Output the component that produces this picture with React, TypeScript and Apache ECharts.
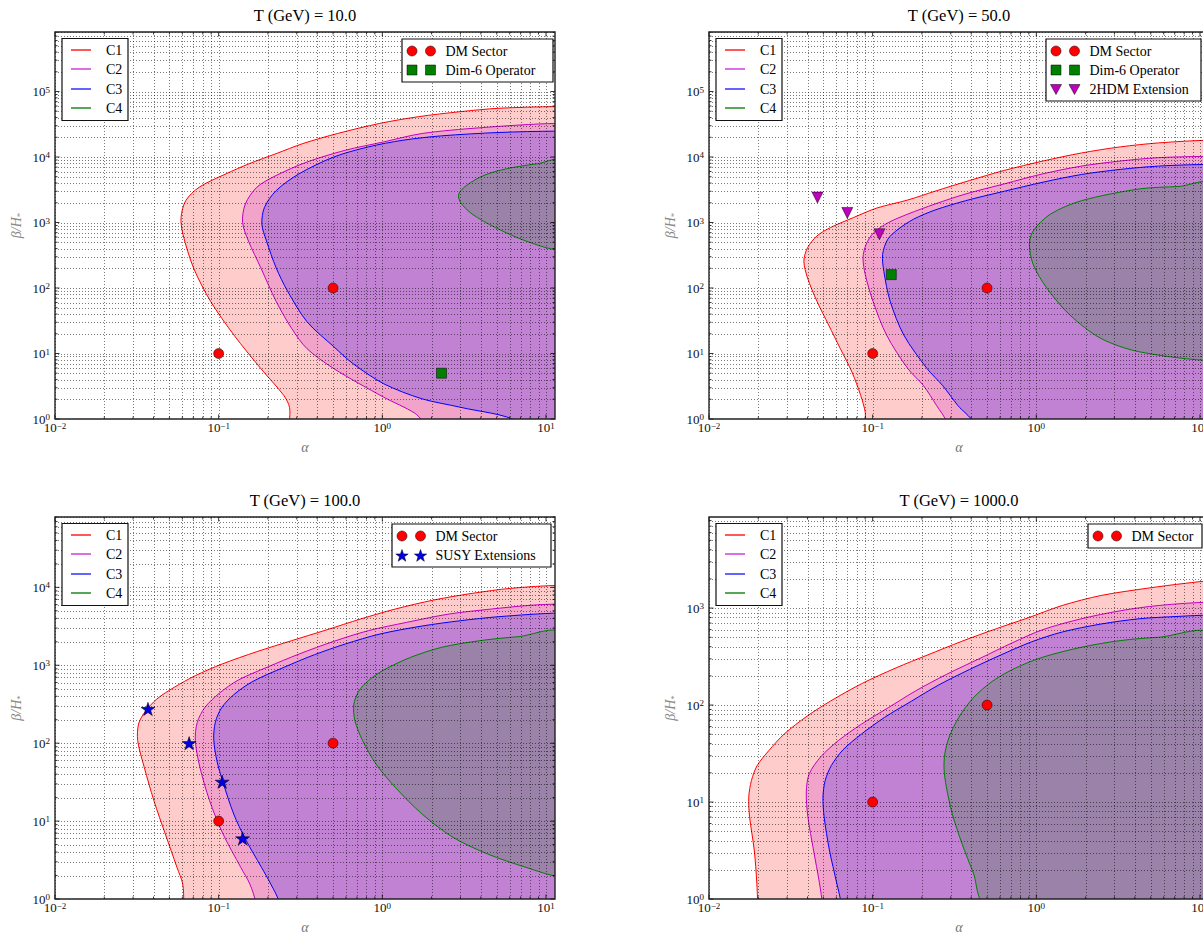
import React, { useEffect, useRef } from 'react';
import * as echarts from 'echarts';

const SERIF = '"Liberation Serif", "DejaVu Serif", serif';

// ---------------- data ----------------
const TEMPS = ['10.0', '50.0', '100.0', '1000.0'];
const CONTOUR_NAMES = ['C1', 'C2', 'C3', 'C4'];
const X_MIN = 0.01;
const X_MAX = 11.35;
const Y_MIN = 1;
const Y_MAX = [8.1e5, 8.1e5, 8.0e4, 8.7e3];
const X_TICKS = [0.01, 0.1, 1, 10];
const Y_TICKS_T10 = [1, 10, 100, 1e3, 1e4, 1e5];
const Y_TICKS_T50 = [1, 10, 100, 1e3, 1e4, 1e5];
const Y_TICKS_T100 = [1, 10, 100, 1e3, 1e4];
const Y_TICKS_T1000 = [1, 10, 100, 1e3];

// contour boundaries [alpha, beta/H*]
const T10_C1 = [[0.271, 0.9], [0.271, 1.51], [0.25, 2.29], [0.181, 5.88], [0.124, 19.1], [0.0893, 62.4], [0.0702, 203], [0.0605, 661], [0.0589, 1194], [0.0629, 2154], [0.076, 3455], [0.111, 5540], [0.1535, 7890], [0.2245, 11250], [0.327, 16040], [0.533, 22860], [0.966, 32590], [1.66, 41220], [3.0, 49230], [5.16, 55450], [11.6, 58770]];
const T10_C2 = [[1.75, 0.9], [1.57, 1.24], [1.02, 2.15], [0.505, 5.88], [0.346, 11.9], [0.279, 24.2], [0.2245, 62.4], [0.181, 203], [0.152, 522], [0.14, 1000], [0.1455, 1914], [0.171, 3455], [0.2245, 5224], [0.346, 8375], [0.594, 12670], [1.02, 17010], [1.75, 22860], [3.94, 27930], [11.6, 32590]];
const T10_C3 = [[6.77, 0.9], [3.0, 1.51], [1.75, 2.03], [1.02, 3.45], [0.661, 7.02], [0.505, 12.7], [0.346, 30.7], [0.264, 88.9], [0.2245, 203], [0.196, 522], [0.1836, 942], [0.1905, 1702], [0.2245, 3070], [0.31, 5540], [0.505, 10000], [0.821, 14260], [1.337, 18040], [2.3, 21040], [5.16, 23680], [11.6, 24820]];
const T10_C4 = [[12.3, 8475], [8.87, 7890], [5.75, 6618], [4.16, 5224], [3.26, 3664], [2.93, 2728], [3.0, 2031], [3.54, 1344], [4.9, 838], [7.54, 522], [12.3, 375]];

const T50_C1 = [[0.0901, 0.9], [0.0901, 1.27], [0.0845, 2.29], [0.0747, 5.22], [0.0634, 11.9], [0.0538, 27.3], [0.0457, 62.4], [0.04, 142.5], [0.038, 257], [0.04, 412], [0.0457, 624], [0.0553, 838], [0.0766, 1194], [0.106, 1662], [0.164, 2206], [0.24, 3000], [0.391, 4375], [0.637, 6237], [1.097, 8675], [1.89, 11530], [3.25, 14260], [5.59, 16420], [11.6, 18040]];
const T50_C2 = [[0.282, 0.9], [0.246, 1.6], [0.2037, 3.26], [0.164, 5.88], [0.1216, 19.1], [0.1005, 62.4], [0.0901, 160], [0.0873, 289], [0.0912, 464], [0.1016, 702], [0.125, 1000], [0.164, 1344], [0.24, 1914], [0.37, 2728], [0.637, 3890], [1.097, 5540], [1.89, 7270], [3.25, 8675], [5.59, 9770], [11.6, 10230]];
const T50_C3 = [[0.408, 0.9], [0.332, 1.6], [0.267, 3.26], [0.215, 5.88], [0.155, 19.1], [0.128, 62.4], [0.117, 180], [0.115, 326], [0.1236, 554], [0.143, 789], [0.178, 1125], [0.24, 1548], [0.37, 2154], [0.637, 3000], [1.097, 4125], [1.89, 5410], [3.25, 6460], [5.59, 7270], [11.6, 7710]];
const T50_C4 = [[12.3, 3750], [7.34, 3540], [4.27, 3258], [1.89, 2154], [1.22, 1344], [0.957, 745], [0.907, 464], [0.957, 228], [1.158, 100], [1.6, 38.9], [2.48, 17], [4.27, 10.6], [12.3, 7.7]];

const T100_C1 = [[0.0612, 0.9], [0.0603, 1.56], [0.0556, 2.55], [0.0472, 6.83], [0.0402, 18.3], [0.0351, 49], [0.032, 108], [0.0324, 176], [0.0353, 249], [0.0419, 369], [0.0535, 521], [0.072, 735], [0.105, 1038], [0.171, 1494], [0.279, 2067], [0.453, 2833], [0.737, 3925], [1.2, 5270], [2.06, 6875], [3.54, 8375], [6.08, 9710], [12.3, 10610]];
const T100_C2 = [[0.168, 0.9], [0.155, 1.56], [0.1364, 2.55], [0.1063, 6.83], [0.088, 18.3], [0.0768, 49], [0.072, 108], [0.074, 185], [0.0824, 288], [0.1007, 436], [0.132, 647], [0.2012, 959], [0.31, 1394], [0.505, 2028], [0.821, 2780], [1.41, 3556], [2.56, 4550], [4.64, 5270], [7.96, 5875], [12.3, 6110]];
const T100_C3 = [[0.234, 0.9], [0.208, 1.56], [0.1825, 2.55], [0.1455, 5.89], [0.1236, 12.3], [0.1063, 31.4], [0.0975, 59.6], [0.0933, 113], [0.0954, 185], [0.104, 283], [0.1236, 419], [0.162, 622], [0.25, 940], [0.385, 1367], [0.594, 1875], [0.966, 2518], [1.75, 3190], [3.0, 3733], [5.16, 4205], [12.3, 4685]];
const T100_C4 = [[12.3, 2470], [6.77, 2328], [3.94, 2067], [2.3, 1698], [1.49, 1264], [1.02, 869], [0.821, 634], [0.717, 463], [0.669, 312], [0.68, 194], [0.7575, 108], [0.915, 54], [1.2, 27.1], [1.75, 12.3], [2.7, 6.19], [4.4, 3.78], [7.54, 2.55], [12.3, 1.94]];

const T1000_C1 = [[0.0198, 0.9], [0.0196, 1.46], [0.0189, 3.2], [0.0177, 7.03], [0.0175, 11.3], [0.01817, 16.7], [0.0197, 23.8], [0.0232, 33.9], [0.0288, 50.3], [0.04, 77.5], [0.0553, 110], [0.0855, 166], [0.139, 242], [0.215, 327], [0.351, 455], [0.571, 614], [0.883, 789], [1.44, 1064], [2.48, 1348], [4.75, 1602], [8.18, 1803], [11.6, 1905]];
const T1000_C2 = [[0.0491, 0.9], [0.0473, 1.46], [0.0435, 3.2], [0.0402, 7.03], [0.0393, 12.7], [0.041, 19.6], [0.0483, 29.4], [0.0617, 43], [0.0855, 63.7], [0.125, 94.3], [0.183, 140], [0.282, 207], [0.46, 307], [0.71, 437], [1.097, 600], [1.89, 777], [3.25, 938], [5.59, 1064], [11.6, 1151]];
const T1000_C3 = [[0.064, 0.9], [0.0603, 1.46], [0.0544, 3.2], [0.0505, 7.03], [0.0497, 11.3], [0.0513, 16.7], [0.0559, 23.8], [0.0658, 34.5], [0.0855, 50.3], [0.118, 74.5], [0.173, 110], [0.253, 161], [0.391, 233], [0.603, 327], [0.932, 448], [1.44, 567], [2.48, 685], [4.27, 777], [7.34, 821], [11.6, 847]];
const T1000_C4 = [[11.6, 516], [5.59, 500], [3.25, 462], [1.89, 395], [1.097, 312], [0.75, 242], [0.5415, 177], [0.4125, 119], [0.3357, 74.5], [0.293, 46.5], [0.276, 31.4], [0.273, 22], [0.282, 14.3], [0.306, 7.61], [0.351, 3.75], [0.4125, 1.85], [0.491, 0.9]];

// benchmark points
const DM_SECTOR = [[0.1, 10], [0.5, 100]];
const DIM6_T10 = [[2.3, 5]];
const DIM6_T50 = [[0.13, 160]];
const HDM2_T50 = [[0.046, 2400], [0.07, 1400], [0.11, 660]];
const SUSY_T100 = [[0.037, 275], [0.066, 100], [0.105, 32], [0.14, 6]];

// ---------------- styles / layout ----------------
const LINE_COLORS = ['#ff0000', '#bf00bf', '#0000ff', '#008000'];
const LEGEND_LINE_COLORS = ['#ff2020', '#d040d0', '#3030ff', '#208a20'];
const FILL_COLORS = ['rgba(255,0,0,0.2)', 'rgba(191,0,191,0.2)', 'rgba(0,0,255,0.2)', 'rgba(0,128,0,0.2)'];
const STAR_PATH = 'path://M50,0L61.2,34.5L97.6,34.5L68.2,55.9L79.4,90.5L50,69.1L20.6,90.5L31.8,55.9L2.4,34.5L38.8,34.5Z';

const MARKER_STYLE: Record<string, any> = {
  dm: { label: 'DM Sector', symbol: 'circle', size: 10, rotate: 0, color: '#ff0000' },
  dim6: { label: 'Dim-6 Operator', symbol: 'rect', size: 10, rotate: 0, color: '#008000' },
  hdm: { label: '2HDM Extension', symbol: 'triangle', size: 11, rotate: 180, color: '#bf00bf' },
  susy: { label: 'SUSY Extensions', symbol: STAR_PATH, size: 14, rotate: 0, color: '#0000e0' },
};

const PANELS = [
  { contours: [T10_C1, T10_C2, T10_C3, T10_C4], yTicks: Y_TICKS_T10, markers: [['dm', DM_SECTOR], ['dim6', DIM6_T10]] },
  { contours: [T50_C1, T50_C2, T50_C3, T50_C4], yTicks: Y_TICKS_T50, markers: [['dm', DM_SECTOR], ['dim6', DIM6_T50], ['hdm', HDM2_T50]] },
  { contours: [T100_C1, T100_C2, T100_C3, T100_C4], yTicks: Y_TICKS_T100, markers: [['dm', DM_SECTOR], ['susy', SUSY_T100]] },
  { contours: [T1000_C1, T1000_C2, T1000_C3, T1000_C4], yTicks: Y_TICKS_T1000, markers: [['dm', DM_SECTOR]] },
];

const LAYOUT = [
  { left: 55, top: 32, w: 500, h: 387, legR: 553, legW: 151 },
  { left: 709, top: 32, w: 500, h: 387, legR: 1201, legW: 155 },
  { left: 55, top: 517, w: 500, h: 386, legR: 551, legW: 159 },
  { left: 709, top: 517, w: 500, h: 386, legR: 1202, legW: 114 },
];

const X_OUT = 100;
const Y_OUT = 0.4;
const SMOOTH = 0.3;

function minorValues(majors: number[], lo: number, hi: number) {
  const out: number[] = [];
  majors.forEach((t) => {
    for (let m = 1; m <= 9; m++) {
      const v = t * m;
      if (v >= lo * 0.9999 && v <= hi * 1.0001) out.push(v);
    }
  });
  return out;
}

function powLabel(v: number) {
  const e = Math.log10(v);
  const r = Math.round(e);
  if (Math.abs(e - r) > 1e-6) return '';
  const s = r < 0 ? '\u2212' + -r : String(r);
  return '{b|10}{s|' + s + '}';
}

const LABEL_RICH = {
  b: { fontSize: 13, fontFamily: SERIF, color: '#111', lineHeight: 13, verticalAlign: 'bottom' },
  s: { fontSize: 9, fontFamily: SERIF, color: '#111', lineHeight: 9, verticalAlign: 'top', padding: [0, 0, 7, 0] },
};

function contourSeries(pts: number[][], k: number, gi: number) {
  return {
    type: 'custom',
    xAxisIndex: gi,
    yAxisIndex: gi,
    clip: true,
    silent: true,
    z: 2,
    data: pts,
    renderItem: (params: any, api: any) => {
      if (params.dataIndex !== 0) return null;
      const first = pts[0];
      const last = pts[pts.length - 1];
      const closure = [[X_OUT, last[1]], [X_OUT, Y_OUT], [first[0], Y_OUT]];
      const all: number[][] = pts.map((p) => api.coord(p));
      closure.forEach((c) => {
        const q = api.coord(c);
        all.push(q, [q[0], q[1]]);
      });
      return {
        type: 'polygon',
        shape: { points: all, smooth: SMOOTH },
        style: { fill: FILL_COLORS[k], stroke: LINE_COLORS[k], lineWidth: 1 },
      };
    },
  };
}

function gridSeries(gi: number, yMax: number, yTicks: number[]) {
  const xs = minorValues(X_TICKS, X_MIN, X_MAX);
  const ys = minorValues(yTicks, Y_MIN, yMax);
  return {
    type: 'custom',
    xAxisIndex: gi,
    yAxisIndex: gi,
    clip: true,
    silent: true,
    z: 3,
    data: [[1, 1]],
    renderItem: (params: any, api: any) => {
      const cs = params.coordSys;
      const children: any[] = [];
      const st = { stroke: '#000', lineWidth: 0.7, lineDash: [1, 2], opacity: 0.75 };
      xs.forEach((v) => {
        const px = Math.round(api.coord([v, 1])[0]) + 0.5;
        children.push({ type: 'line', shape: { x1: px, y1: cs.y, x2: px, y2: cs.y + cs.height }, style: st });
      });
      ys.forEach((v) => {
        const py = Math.round(api.coord([1, v])[1]) + 0.5;
        children.push({ type: 'line', shape: { x1: cs.x, y1: py, x2: cs.x + cs.width, y2: py }, style: st });
      });
      return { type: 'group', children };
    },
  };
}

function frameSeries(gi: number, yMax: number, yTicks: number[]) {
  const xs = minorValues(X_TICKS, X_MIN, X_MAX);
  const ys = minorValues(yTicks, Y_MIN, yMax);
  const isMajor = (v: number) => Math.abs(Math.log10(v) - Math.round(Math.log10(v))) < 1e-6;
  return {
    type: 'custom',
    xAxisIndex: gi,
    yAxisIndex: gi,
    clip: false,
    silent: true,
    z: 20,
    data: [[1, 1]],
    renderItem: (params: any, api: any) => {
      const cs = params.coordSys;
      const children: any[] = [];
      const st = { stroke: '#000', lineWidth: 0.8 };
      xs.forEach((v) => {
        const px = api.coord([v, 1])[0];
        const L = isMajor(v) ? 4.5 : 2.5;
        children.push({ type: 'line', shape: { x1: px, y1: cs.y + cs.height, x2: px, y2: cs.y + cs.height - L }, style: st });
        children.push({ type: 'line', shape: { x1: px, y1: cs.y, x2: px, y2: cs.y + L }, style: st });
      });
      ys.forEach((v) => {
        const py = api.coord([1, v])[1];
        const L = isMajor(v) ? 4.5 : 2.5;
        children.push({ type: 'line', shape: { x1: cs.x, y1: py, x2: cs.x + L, y2: py }, style: st });
        children.push({ type: 'line', shape: { x1: cs.x + cs.width, y1: py, x2: cs.x + cs.width - L, y2: py }, style: st });
      });
      children.push({ type: 'rect', shape: { x: cs.x, y: cs.y, width: cs.width, height: cs.height }, style: { fill: 'none', stroke: '#222', lineWidth: 1.4 } });
      return { type: 'group', children };
    },
  };
}

function markerGraphic(kind: string, cx: number, cy: number) {
  const m = MARKER_STYLE[kind];
  const style = { fill: m.color, stroke: '#000', lineWidth: 0.5 };
  if (kind === 'dm') return { type: 'circle', shape: { cx, cy, r: 5 }, style, z: 102 };
  if (kind === 'dim6') return { type: 'rect', shape: { x: cx - 5, y: cy - 5, width: 10, height: 10 }, style, z: 102 };
  if (kind === 'hdm') return { type: 'polygon', shape: { points: [[cx - 5.5, cy - 4.5], [cx + 5.5, cy - 4.5], [cx, cy + 5.5]] }, style, z: 102 };
  const pts: number[][] = [];
  for (let i = 0; i < 10; i++) {
    const r = i % 2 === 0 ? 6.5 : 2.6;
    const a = -Math.PI / 2 + (i * Math.PI) / 5;
    pts.push([cx + r * Math.cos(a), cy + 1 + r * Math.sin(a)]);
  }
  return { type: 'polygon', shape: { points: pts }, style, z: 102 };
}

function legendGraphics(pi: number) {
  const L = LAYOUT[pi];
  const els: any[] = [];
  const font = { fontSize: 14, fontFamily: SERIF, fontWeight: 'normal', fill: '#000' };
  // contour legend
  const bx = L.left + 7;
  const by = L.top + 6.5;
  els.push({ type: 'rect', shape: { x: bx, y: by, width: 66, height: 82 }, style: { fill: '#fff', stroke: '#111', lineWidth: 1.2 }, z: 100 });
  CONTOUR_NAMES.forEach((nm, k) => {
    const yy = Math.round(by + 11 + k * 19.5);
    els.push({ type: 'rect', shape: { x: bx + 9, y: yy - 0.75, width: 20, height: 1.5 }, style: { fill: LEGEND_LINE_COLORS[k] }, z: 101 });
    els.push({ type: 'text', x: bx + 44, y: yy, style: { ...font, text: nm, verticalAlign: 'middle', align: 'left' }, z: 101 });
  });
  // marker legend
  const items = PANELS[pi].markers;
  const n = items.length;
  const rbx = L.legR - L.legW;
  const rby = L.top + 7;
  els.push({ type: 'rect', shape: { x: rbx, y: rby, width: L.legW, height: 24 + 19 * (n - 1) }, style: { fill: '#fff', stroke: '#111', lineWidth: 1.2 }, z: 100 });
  items.forEach((it: any, k: number) => {
    const yy = rby + 12 + 19 * k;
    els.push(markerGraphic(it[0], rbx + 10, yy));
    els.push(markerGraphic(it[0], rbx + 28.5, yy));
    els.push({ type: 'text', x: rbx + 43.5, y: yy, style: { ...font, text: MARKER_STYLE[it[0]].label, verticalAlign: 'middle', align: 'left' }, z: 101 });
  });
  // title
  els.push({ type: 'text', x: L.left + L.w / 2, y: L.top - 17, style: { text: 'T (GeV) = ' + TEMPS[pi], fontSize: 16.5, fontWeight: 'normal', fontFamily: SERIF, fill: '#000', align: 'center', verticalAlign: 'middle' }, z: 101 });
  return els;
}

function buildOption() {
  const grid: any[] = [];
  const xAxis: any[] = [];
  const yAxis: any[] = [];
  const series: any[] = [];
  let graphic: any[] = [];
  PANELS.forEach((p, i) => {
    const L = LAYOUT[i];
    grid.push({ left: L.left, top: L.top, width: L.w, height: L.h, show: false });
    xAxis.push({
      type: 'log', logBase: 10, gridIndex: i, min: X_MIN, max: X_MAX,
      name: '\u03b1', nameLocation: 'middle', nameGap: 21,
      nameTextStyle: { fontSize: 14, fontStyle: 'italic', fontFamily: SERIF, color: '#777' },
      axisLine: { show: false }, axisTick: { show: false }, splitLine: { show: false },
      axisLabel: { formatter: powLabel, rich: LABEL_RICH, margin: 2 },
    });
    yAxis.push({
      type: 'log', logBase: 10, gridIndex: i, min: Y_MIN, max: Y_MAX[i],
      name: '{n|\u03b2/H}{u|*}', nameLocation: 'middle', nameGap: 31,
      nameTextStyle: {
        rich: {
          n: { fontSize: 14, fontStyle: 'italic', fontFamily: SERIF, color: '#888', lineHeight: 15 },
          u: { fontSize: 9, fontFamily: SERIF, color: '#888', lineHeight: 9, verticalAlign: 'bottom', padding: [6, 0, 0, 0] },
        },
      },
      axisLine: { show: false }, axisTick: { show: false }, splitLine: { show: false },
      axisLabel: { formatter: powLabel, rich: LABEL_RICH, margin: 5 },
    });
    p.contours.forEach((c, k) => series.push(contourSeries(c, k, i)));
    series.push(gridSeries(i, Y_MAX[i], p.yTicks));
    p.markers.forEach((m: any) => {
      const st = MARKER_STYLE[m[0]];
      series.push({
        type: 'scatter', xAxisIndex: i, yAxisIndex: i, name: st.label, data: m[1],
        symbol: st.symbol, symbolSize: st.size, symbolRotate: st.rotate, symbolKeepAspect: true,
        itemStyle: { color: st.color, borderColor: '#000', borderWidth: 0.5, opacity: 1 },
        z: 10, silent: true,
      });
    });
    series.push(frameSeries(i, Y_MAX[i], p.yTicks));
    graphic = graphic.concat(legendGraphics(i));
  });
  return { animation: false, backgroundColor: '#fff', grid, xAxis, yAxis, series, graphic };
}

export default function App() {
  const ref = useRef<HTMLDivElement>(null);
  useEffect(() => {
    const chart = echarts.init(ref.current as HTMLDivElement, null, { renderer: 'svg' });
    chart.setOption(buildOption() as any);
    return () => chart.dispose();
  }, []);
  return (
    <div style={{ position: 'fixed', left: 0, top: 0, width: 1203, height: 935, overflow: 'hidden', background: '#fff' }}>
      <div ref={ref} style={{ width: 1240, height: 935 }} />
    </div>
  );
}
